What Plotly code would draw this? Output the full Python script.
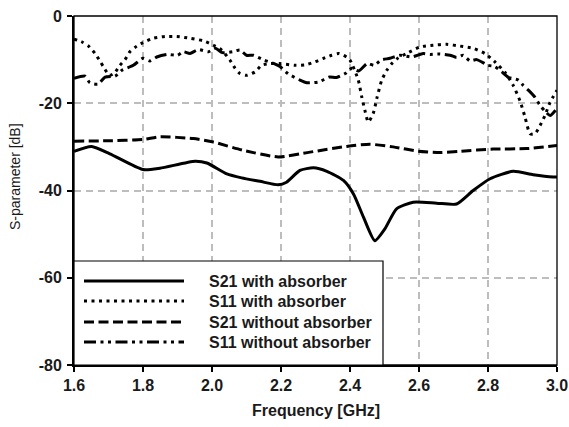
import plotly.graph_objects as go

# ---------------- data ----------------
f_s21_abs = [1.600, 1.651, 1.704, 1.800, 1.849, 1.951, 1.985, 2.043, 2.086, 2.139,
             2.192, 2.216, 2.255, 2.294, 2.333, 2.381, 2.410, 2.439, 2.472, 2.501,
             2.535, 2.583, 2.651, 2.709, 2.757, 2.806, 2.873, 2.931, 2.989, 3.000]
s21_abs = [-31.0, -29.9, -31.6, -35.2, -34.9, -33.3, -33.7, -36.2, -37.1, -37.9,
           -38.7, -38.1, -35.4, -34.8, -35.6, -37.7, -40.8, -46.1, -51.5, -48.8,
           -44.2, -42.7, -42.9, -43.1, -40.0, -37.3, -35.6, -36.4, -36.9, -36.9]

f_s11_abs = [1.600, 1.622, 1.642, 1.661, 1.675, 1.685, 1.703, 1.718, 1.733, 1.748,
             1.762, 1.782, 1.800, 1.830, 1.864, 1.898, 1.936, 1.975, 2.004, 2.028,
             2.052, 2.067, 2.081, 2.100, 2.125, 2.144, 2.170, 2.197, 2.241, 2.270,
             2.299, 2.323, 2.347, 2.368, 2.390, 2.400, 2.424, 2.434, 2.443, 2.453,
             2.467, 2.479, 2.492, 2.507, 2.520, 2.540, 2.564, 2.603, 2.641, 2.680,
             2.719, 2.757, 2.791, 2.820, 2.850, 2.873, 2.893, 2.907, 2.922, 2.936,
             2.951, 2.965, 2.980, 3.000]
s11_abs = [-5.3, -5.9, -6.9, -8.6, -10.3, -11.6, -13.6, -13.0, -11.3, -10.0,
           -8.2, -6.9, -6.1, -5.1, -4.7, -4.7, -5.1, -5.7, -6.7, -7.8,
           -10.1, -12.0, -13.2, -13.6, -12.8, -11.3, -10.9, -10.9, -11.3, -11.2,
           -10.5, -9.7, -9.0, -8.6, -9.4, -10.1, -14.7, -18.5, -21.6, -24.3,
           -22.4, -18.5, -14.7, -12.4, -11.0, -9.6, -8.6, -7.1, -6.7, -6.5,
           -6.9, -7.4, -8.6, -10.5, -13.0, -15.9, -19.5, -23.1, -27.0, -27.0,
           -25.1, -22.8, -19.8, -17.0]

f_s21_noabs = [1.600, 1.700, 1.800, 1.849, 1.946, 2.004, 2.091, 2.192, 2.284, 2.390,
               2.458, 2.525, 2.598, 2.661, 2.719, 2.815, 2.912, 3.000]
s21_noabs = [-28.7, -28.6, -28.3, -27.7, -28.1, -28.9, -30.8, -32.3, -31.2, -29.9,
             -29.4, -30.0, -31.0, -31.3, -31.0, -30.5, -30.4, -29.7]

f_s11_noabs = [1.600, 1.632, 1.646, 1.670, 1.690, 1.719, 1.740, 1.772, 1.800, 1.820,
               1.840, 1.870, 1.900, 1.917, 1.936, 1.960, 1.990, 2.010, 2.030, 2.060,
               2.081, 2.100, 2.120, 2.150, 2.180, 2.197, 2.220, 2.255, 2.275, 2.310,
               2.340, 2.361, 2.386, 2.405, 2.425, 2.450, 2.470, 2.490, 2.516, 2.545,
               2.579, 2.612, 2.632, 2.656, 2.690, 2.709, 2.728, 2.748, 2.767, 2.800,
               2.820, 2.840, 2.860, 2.888, 2.902, 2.917, 2.935, 2.951, 2.965, 2.980,
               3.000]
s11_noabs = [-14.3, -13.8, -15.3, -15.6, -14.0, -13.8, -12.4, -11.3, -9.7, -10.3,
             -9.4, -8.8, -9.0, -8.2, -8.6, -7.7, -8.2, -7.4, -8.4, -8.2,
             -7.8, -9.0, -9.0, -10.1, -10.9, -11.6, -13.2, -14.7, -15.3, -15.1,
             -14.0, -14.1, -13.2, -12.0, -12.6, -10.9, -11.3, -10.1, -9.7, -9.0,
             -9.4, -8.6, -8.8, -8.7, -9.0, -9.5, -9.0, -10.3, -10.0, -11.3,
             -11.6, -12.8, -14.1, -14.7, -15.9, -17.0, -18.5, -20.5, -21.8, -22.8,
             -21.2]

series_names = ["S21 with absorber", "S11 with absorber",
                "S21 without absorber", "S11 without absorber"]
x_ticks = [1.6, 1.8, 2.0, 2.2, 2.4, 2.6, 2.8, 3.0]
x_tick_labels = ["1.6", "1.8", "2.0", "2.2", "2.4", "2.6", "2.8", "3.0"]
y_ticks = [0, -20, -40, -60, -80]
y_tick_labels = ["0", "-20", "-40", "-60", "-80"]

# ---------------- styles ----------------
FONT = "Liberation Sans, Arial, sans-serif"
TXT = "#1a1a1a"
dashes = ["solid", "3px,4.5px", "10px,4.5px", "12px,4.5px,3px,4.5px,3px,4.5px"]
widths = [3, 3, 3, 3]

xs = [f_s21_abs, f_s11_abs, f_s21_noabs, f_s11_noabs]
ys = [s21_abs, s11_abs, s21_noabs, s11_noabs]

fig = go.Figure()
for name, x, y, d, w in zip(series_names, xs, ys, dashes, widths):
    fig.add_trace(go.Scatter(
        x=x, y=y, mode="lines", name=name, showlegend=False,
        line=dict(color="black", width=w, dash=d, shape="spline", smoothing=0.6),
    ))

L, R, T, B = 74, 12, 16, 62
W, H = 569, 427
pw, ph = W - L - R, H - T - B

def px_x(p):
    return (p - L) / pw

def px_y(p):
    return (T + ph - p) / ph

shapes = []
annotations = []

# frame
shapes.append(dict(type="rect", xref="paper", yref="paper", x0=0, x1=1, y0=0, y1=1,
                   line=dict(color="black", width=1.3), layer="above"))

# manual legend (long line samples like the reference)
shapes.append(dict(type="rect", xref="paper", yref="paper",
                   x0=0, x1=px_x(383), y0=0, y1=px_y(261),
                   fillcolor="white", line=dict(color="black", width=1.2), layer="above"))
rows = [281, 301, 322, 342]
for name, d, w, ry in zip(series_names, dashes, widths, rows):
    shapes.append(dict(type="line", xref="paper", yref="paper",
                       x0=px_x(84), x1=px_x(184), y0=px_y(ry), y1=px_y(ry),
                       line=dict(color="black", width=w, dash=d), layer="above"))
    annotations.append(dict(xref="paper", yref="paper", x=px_x(207), y=px_y(ry),
                            xanchor="left", yanchor="middle", showarrow=False,
                            text=name,
                            font=dict(family=FONT, size=16, color=TXT, weight="bold")))

# axis titles
annotations.append(dict(xref="paper", yref="paper", x=0.5, y=px_y(410),
                        xanchor="center", yanchor="middle", showarrow=False,
                        text="Frequency [GHz]",
                        font=dict(family=FONT, size=16, color=TXT, weight="bold")))
annotations.append(dict(xref="paper", yref="paper", x=px_x(15), y=px_y(177),
                        xanchor="center", yanchor="middle", showarrow=False,
                        textangle=-90, text="S-parameter [dB]",
                        font=dict(family=FONT, size=14, color=TXT)))

grid = dict(showgrid=True, gridcolor="#bdbdbd", gridwidth=1.5, griddash="7px,5px")

fig.update_layout(
    width=W, height=H,
    margin=dict(l=L, r=R, t=T, b=B, autoexpand=False),
    paper_bgcolor="white", plot_bgcolor="white",
    shapes=shapes, annotations=annotations,
    xaxis=dict(range=[1.6, 3.0], tickvals=x_ticks, ticktext=x_tick_labels,
               showline=True, linecolor="black", linewidth=2,
               ticks="outside", ticklen=5, tickwidth=1.5, tickcolor="black",
               tickfont=dict(family=FONT, size=16, color=TXT, weight="bold"),
               zeroline=False, automargin=False, **grid),
    yaxis=dict(range=[-80, 0], tickvals=y_ticks, ticktext=y_tick_labels,
               showline=True, linecolor="black", linewidth=2,
               ticks="outside", ticklen=5, tickwidth=1.5, tickcolor="black",
               tickfont=dict(family=FONT, size=16, color=TXT, weight="bold"),
               ticklabelstandoff=2,
               zeroline=False, automargin=False, **grid),
)

fig.write_html("out.html")
